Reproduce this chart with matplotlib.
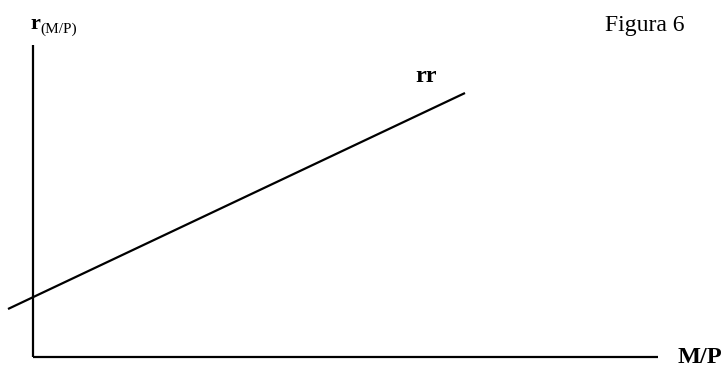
import matplotlib.pyplot as plt

# rr line (M/P on x, r on y), origin of the diagram at (0, 0)
rr_mp = [-25, 432]
rr_r = [48, 264]

# axis extents
mp_max = 625
r_max = 312

W, H = 723, 368

fig = plt.figure(figsize=(W / 100, H / 100), dpi=100)
ax = fig.add_axes([0, 0, 1, 1])
ax.set_xlim(-33, W - 33)
ax.set_ylim(-(H - 357), 357)

ax.plot(rr_mp, rr_r, color="black", lw=1.6, solid_capstyle="butt")
ax.plot([0, mp_max], [0, 0], color="black", lw=1.6, solid_capstyle="butt")
ax.plot([0, 0], [0, r_max], color="black", lw=1.6, solid_capstyle="butt")
ax.axis("off")

serif = "Liberation Serif"

def put(px, py, s, **kw):
    fig.text(px / W, 1 - py / H, s, family=serif, va="baseline", **kw)

put(30, 29, "r", fontsize=16, fontweight="bold")
put(40, 33, "(M/P)", fontsize=11)
put(605, 31, "Figura 6", fontsize=17)
put(415, 82, "rr", fontsize=17.5, fontweight="bold")
put(678, 363, "M/P", fontsize=17.5, fontweight="bold")

fig.savefig("out.png", dpi=100)
